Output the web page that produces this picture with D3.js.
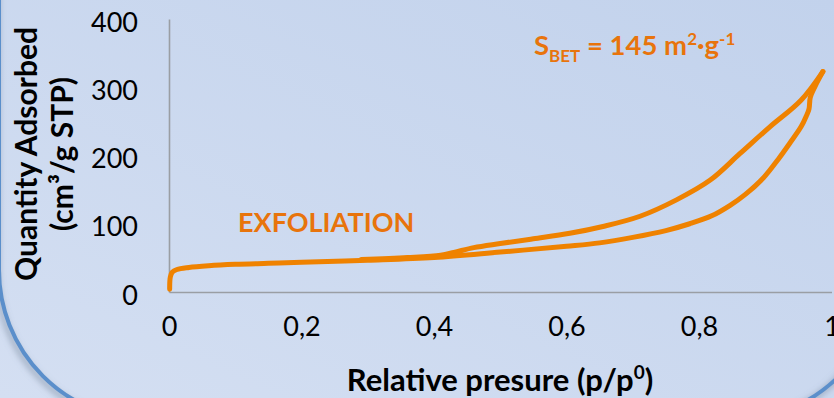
<!DOCTYPE html>
<html>
<head>
<meta charset="utf-8">
<script src="https://cdn.jsdelivr.net/npm/d3@7"></script>
<style>
  html, body { margin: 0; padding: 0; background: #cddaf0; }
  svg { display: block; }
</style>
</head>
<body>
<svg id="chart" width="834" height="398"></svg>
<script>
// ---- data ----
const xTicks = [0, 0.2, 0.4, 0.6, 0.8, 1];
const xTickLabels = ["0", "0,2", "0,4", "0,6", "0,8", "1"];
const yTicks = [0, 100, 200, 300, 400];
const yTickLabels = ["0", "100", "200", "300", "400"];

// adsorption branch (lower)
const adsP = [0.001, 0.002, 0.005, 0.012, 0.03, 0.06, 0.1, 0.15, 0.2, 0.3, 0.4, 0.5, 0.6, 0.65, 0.7, 0.75, 0.786, 0.82, 0.847, 0.87, 0.897, 0.92, 0.937, 0.954, 0.962, 0.966, 0.968, 0.975, 0.987];
const adsV = [4, 22, 29, 33, 36, 38.5, 40.5, 42, 43.5, 46.5, 50.5, 58.5, 67, 72, 80, 90, 100, 112, 127, 143, 167, 195, 218, 242, 258, 268, 285, 301, 323];
// desorption branch (upper)
const desP = [0.987, 0.954, 0.907, 0.862, 0.817, 0.766, 0.711, 0.655, 0.605, 0.55, 0.5, 0.46, 0.43, 0.41, 0.36, 0.29];
const desV = [323, 281, 242, 203, 164, 135, 111, 96, 86, 78, 71, 65, 58, 54, 50.5, 47.5];

const seriesLabel = "EXFOLIATION";
const xTitle = "Relative presure (p/p";
const yTitle1 = "Quantity Adsorbed";
const yTitle2 = "(cm³/g STP)";

// ---- drawing ----
const W = 834, H = 398;
const svg = d3.select("#chart");
const defs = svg.append("defs");

const grad = defs.append("linearGradient").attr("id", "bg")
  .attr("x1", "0").attr("y1", "1").attr("x2", "1").attr("y2", "0");
grad.append("stop").attr("offset", "0%").attr("stop-color", "#d4dff2");
grad.append("stop").attr("offset", "100%").attr("stop-color", "#c2d2ec");
svg.append("rect").attr("width", W).attr("height", H).attr("fill", "url(#bg)");

const blur = defs.append("filter").attr("id", "sh").attr("x", "-10%").attr("y", "-10%").attr("width", "120%").attr("height", "120%");
blur.append("feGaussianBlur").attr("stdDeviation", 3);

// rounded frame (bottom corners visible)
const frame = "M -1 -10 L -1 270 A 150 150 0 0 0 149 420 L 733 420 A 150 150 0 0 0 883 270 L 883 -10";
svg.append("path").attr("d", frame).attr("fill", "none")
  .attr("stroke", "#6f7f95").attr("stroke-opacity", 0.55).attr("stroke-width", 5)
  .attr("transform", "translate(-2,3)").attr("filter", "url(#sh)");
svg.append("path").attr("d", frame).attr("fill", "none")
  .attr("stroke", "#5b8fcb").attr("stroke-width", 4);

const x = d3.scaleLinear().domain([0, 1]).range([169, 831.5]);
const y = d3.scaleLinear().domain([0, 400]).range([292, 19]);

const fontR = "Lato, 'Open Sans', sans-serif";

// axes
const xAxis = d3.axisBottom(x).tickValues(xTicks).tickSize(0).tickFormat((d, i) => xTickLabels[i]);
const gx = svg.append("g").attr("transform", `translate(0,${y(0)})`).call(xAxis);
gx.select(".domain").attr("stroke", "#9a9ea4").attr("stroke-width", 1.6);
gx.selectAll("text").attr("font-family", fontR).attr("font-size", 27).attr("fill", "#000")
  .attr("y", 0).attr("dy", "1.62em");

const yAxis = d3.axisLeft(y).tickValues(yTicks).tickSize(0).tickFormat((d, i) => yTickLabels[i]);
const gy = svg.append("g").attr("transform", `translate(${x(0)},0)`).call(yAxis);
gy.select(".domain").attr("stroke", "#9a9ea4").attr("stroke-width", 1.6);
gy.selectAll("text").attr("font-family", fontR).attr("font-size", 27).attr("fill", "#000")
  .attr("x", -31).attr("dy", "0.45em");

// curves
const line = d3.line().x(d => x(d[0])).y(d => y(d[1])).curve(d3.curveCatmullRom.alpha(0.5));
const ads = adsP.map((p, i) => [p, adsV[i]]);
const des = desP.map((p, i) => [p, desV[i]]);
const orange = "#ef8200";
svg.append("path").datum(des).attr("d", line).attr("fill", "none")
  .attr("stroke", orange).attr("stroke-width", 5).attr("stroke-linecap", "round").attr("stroke-linejoin", "round");
svg.append("path").datum(ads).attr("d", line).attr("fill", "none")
  .attr("stroke", orange).attr("stroke-width", 5).attr("stroke-linecap", "round").attr("stroke-linejoin", "round");

// series label
svg.append("text").attr("x", 238).attr("y", 232).text(seriesLabel)
  .attr("font-family", fontR).attr("font-weight", 700).attr("font-size", 27).attr("fill", "#e8740c");

// S_BET annotation
const sb = svg.append("text").attr("x", 534).attr("y", 55)
  .attr("font-family", fontR).attr("font-weight", 700).attr("font-size", 27.5).attr("fill", "#e8740c");
sb.append("tspan").text("S");
sb.append("tspan").text("BET").attr("font-size", 17).attr("dy", 7);
sb.append("tspan").text(" = 145 m").attr("dy", -7);
sb.append("tspan").text("2").attr("font-size", 17).attr("dy", -10);
sb.append("tspan").text("·g").attr("dy", 10);
sb.append("tspan").text("-1").attr("font-size", 17).attr("dy", -10);

// axis titles
const xt = svg.append("text").attr("x", 500).attr("y", 391).attr("text-anchor", "middle")
  .attr("font-family", fontR).attr("font-weight", 700).attr("font-size", 31).attr("fill", "#000");
xt.append("tspan").text(xTitle);
xt.append("tspan").text("0").attr("font-size", 19).attr("dy", -12);
xt.append("tspan").text(")").attr("dy", 12);

const yt = svg.append("g").attr("transform", "translate(0,154) rotate(-90)");
yt.append("text").attr("x", 0).attr("y", 37).attr("text-anchor", "middle").text(yTitle1)
  .attr("font-family", fontR).attr("font-weight", 700).attr("font-size", 30).attr("fill", "#000");
yt.append("text").attr("x", 0).attr("y", 73).attr("text-anchor", "middle").text(yTitle2)
  .attr("font-family", fontR).attr("font-weight", 700).attr("font-size", 30).attr("fill", "#000");
</script>
</body>
</html>
